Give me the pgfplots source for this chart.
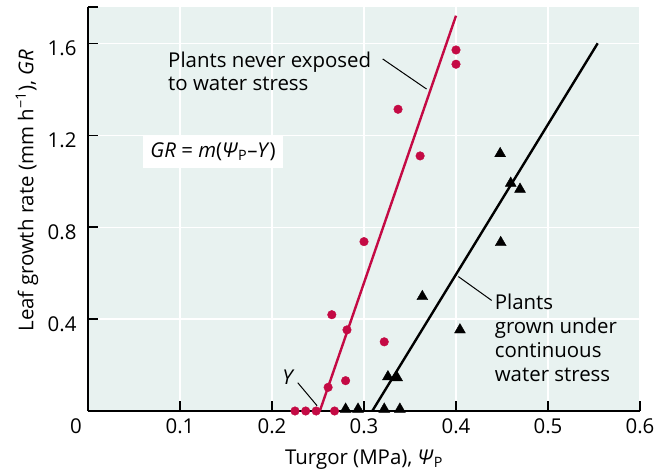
\documentclass[border=0pt]{standalone}
\usepackage{fontspec}
\setmainfont{Open Sans}
\setsansfont{Open Sans}
\usepackage{pgfplots}
\pgfplotsset{compat=1.18}
\definecolor{bg}{RGB}{232,242,240}
\definecolor{crim}{RGB}{196,10,68}
\newcommand{\fs}{\fontsize{20.5}{24}\selectfont}
\begin{document}
\begin{tikzpicture}[font=\fs]
\begin{axis}[
  scale only axis, width=552bp, height=404bp,
  xmin=0, xmax=0.6, ymin=0, ymax=1.758,
  axis x line=bottom, axis y line=left,
  axis line style={-, line width=1.4bp},
  axis background/.style={fill=bg, draw=none},
  xtick={0,0.1,0.2,0.3,0.4,0.5,0.6},
  xticklabels={\makebox[0pt]{\hspace{-24bp}0},0.1,0.2,0.3,0.4,0.5,0.6},
  ytick={0.4,0.8,1.2,1.6},
  yticklabels={0.4,0.8,1.2,1.6},
  extra y ticks={1.758}, extra y tick labels={}, extra tick style={grid=none},
  grid=major, major grid style={white, line width=1.2bp},
  tick align=inside, major tick length=10bp,
  tick style={black, line width=1.4bp},
  every tick label/.append style={font=\fs},
  xticklabel style={yshift=-4bp},
  yticklabel style={xshift=-8bp, yshift=-5bp},
  /pgf/number format/assume math mode=true,
  xlabel={Turgor (MPa), \textit{Ψ}\textsubscript{P}},
  ylabel={Leaf growth rate (mm h\textsuperscript{−1}), \textit{GR}},
  xlabel style={at={(axis description cs:0.5,-0.121)}, anchor=center, font=\fs},
  ylabel style={at={(axis description cs:-0.1105,0.545)}, anchor=center, font=\fs},
  clip=false,
]
% fitted lines
\addplot[crim, line width=2.4bp] coordinates {(0.252,0) (0.400,1.72)};
\addplot[black, line width=2.4bp] coordinates {(0.309,0) (0.554,1.60)};
% plants never exposed to water stress
\addplot[only marks, mark=*, mark size=4.3bp, mark options={draw=crim, fill=crim}] coordinates {
(0.225,0) (0.2366,0) (0.248,0) (0.268,0)
(0.261,0.103) (0.280,0.132) (0.265,0.419) (0.2815,0.353) (0.322,0.301)
(0.300,0.737) (0.361,1.11) (0.337,1.313) (0.400,1.509) (0.400,1.571)
};
% plants grown under continuous water stress
\addplot[only marks, mark=triangle*, mark size=6.3bp, mark options={draw=black, fill=black}] coordinates {
(0.280,0.008) (0.2935,0.008) (0.322,0.008) (0.339,0.008)
(0.326,0.149) (0.336,0.145) (0.3634,0.498) (0.4043,0.353)
(0.4486,0.733) (0.448,1.120) (0.4595,0.991) (0.4696,0.965)
};
% annotations
\draw[line width=1bp] (axis cs:0.3203,1.532) -- (axis cs:0.368,1.401);
\draw[line width=1bp] (axis cs:0.4025,0.585) -- (axis cs:0.4388,0.481);
\draw[line width=1bp] (axis cs:0.228,0.123) -- (axis cs:0.249,0.023);
\node[anchor=north west, inner sep=0pt, align=left] at (axis cs:0.087,1.565) {Plants never exposed\\to water stress};
\node[anchor=north west, inner sep=0pt, align=left] at (axis cs:0.442,0.509) {Plants\\grown under\\continuous\\water stress};
\node[inner sep=0pt] at (axis cs:0.218,0.145) {\textit{Y}};
\node[fill=white, inner xsep=7bp, inner ysep=7bp] at (axis cs:0.136,1.127) {\textit{GR} = \textit{m}(\textit{Ψ}\textsubscript{P}–\textit{Y})};
\end{axis}
\path (current axis.south west) ++(-88bp,-63bp);
\path (current axis.north east) ++(28bp,7bp);
\end{tikzpicture}
\end{document}
